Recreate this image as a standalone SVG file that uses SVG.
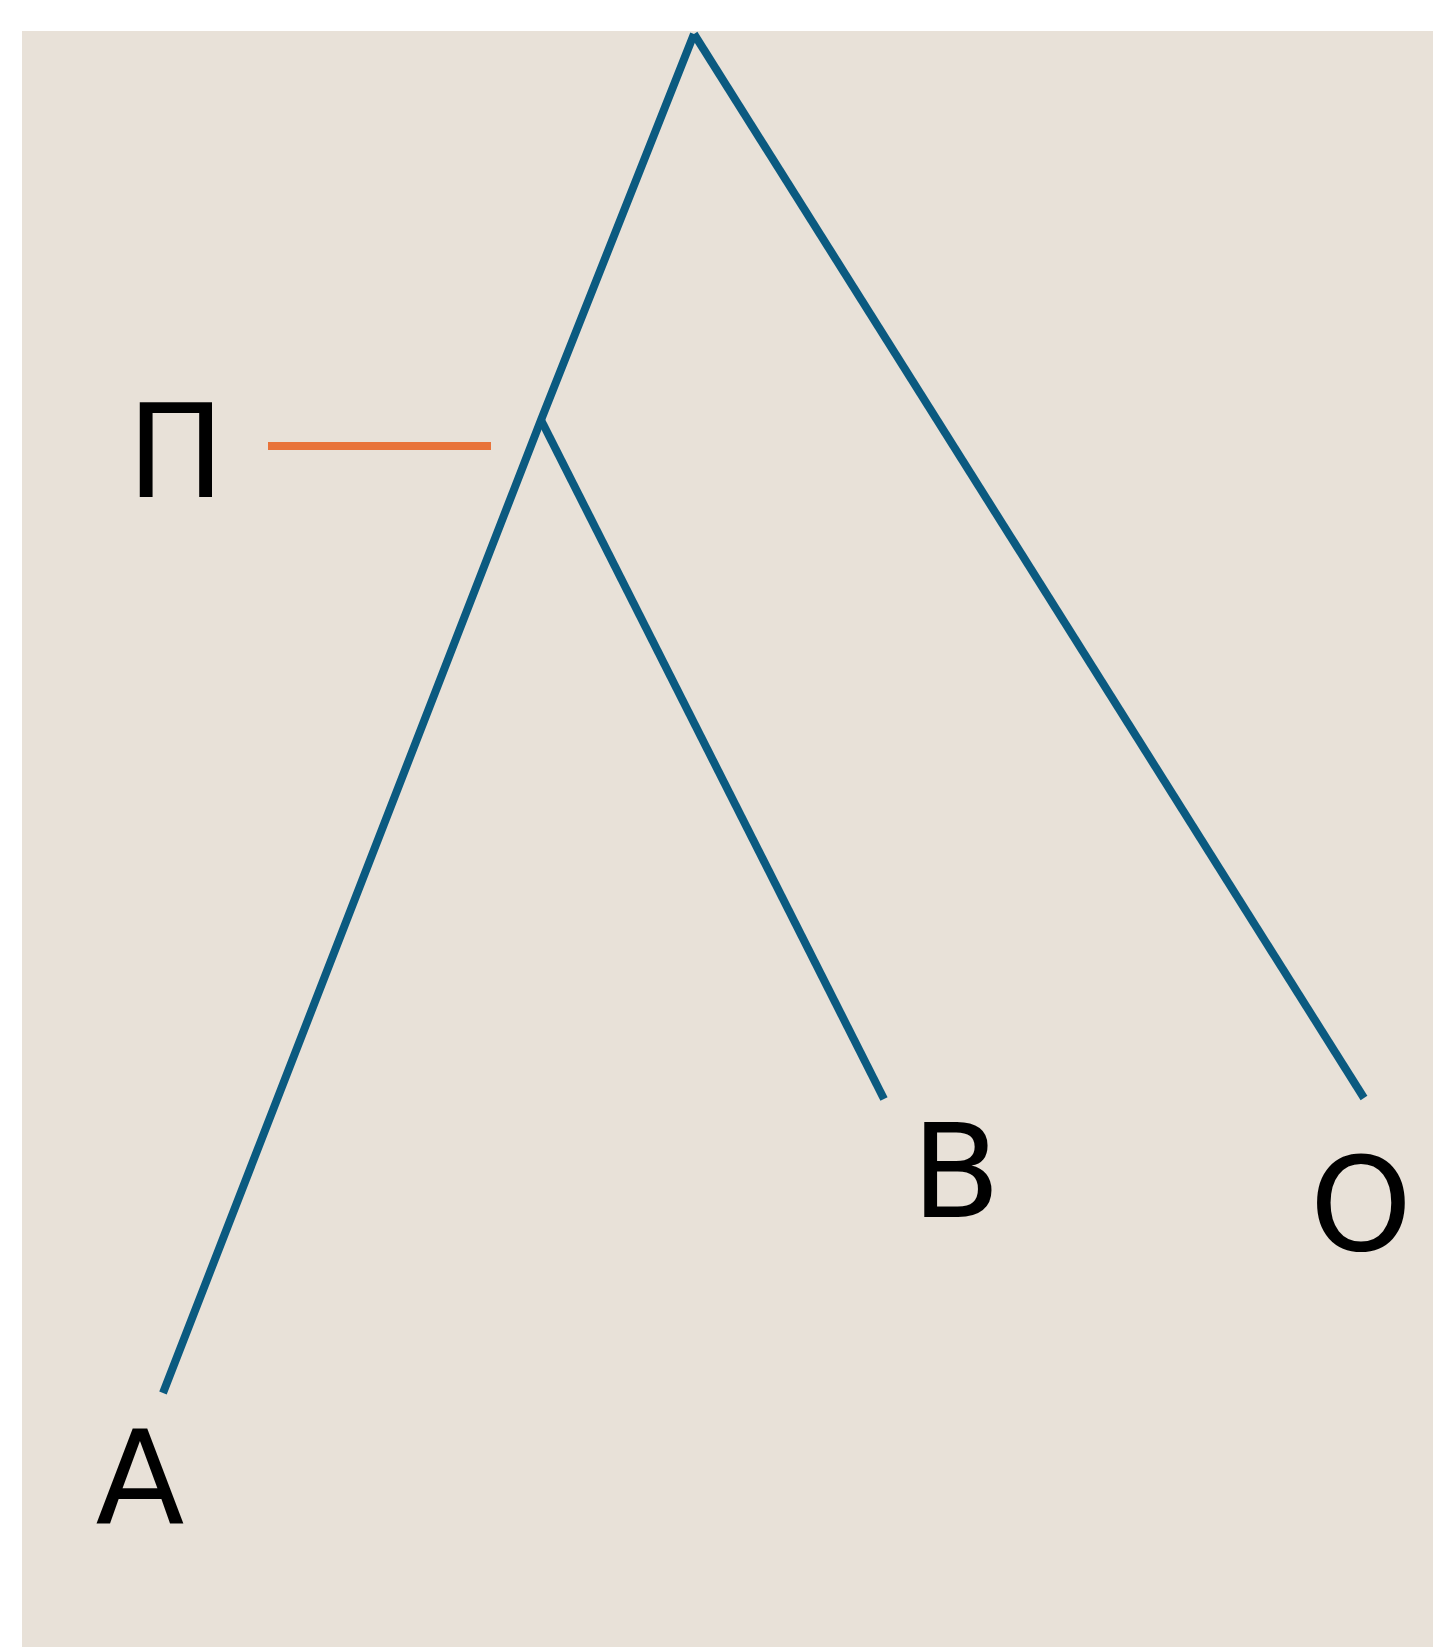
<svg xmlns="http://www.w3.org/2000/svg" width="1433" height="1647" viewBox="0 0 1433 1647">
<style>
.lbl{font-family:"DejaVu Sans","Open Sans",sans-serif;font-size:130px;fill:#000;text-anchor:middle}
.br{stroke:#0b5a80;stroke-width:8;fill:none;stroke-linecap:butt;stroke-linejoin:miter}
.mk{stroke:#e8733a;stroke-width:8}
</style>
<rect x="22" y="31" width="1411" height="1616" fill="#e8e1d8"/>
<g id="connectors">
<path class="br" d="M694 34 L541 420 L163 1393"/>
<path class="br" d="M694 34 L1364 1098"/>
<path class="br" d="M541 420 L884 1099"/>
</g>
<g id="node-P">
<line class="mk" x1="268" y1="446" x2="491" y2="446"/>
<text class="lbl" x="176" y="497">Π</text>
</g>
<g id="node-A"><text class="lbl" x="140" y="1523">A</text></g>
<g id="node-B"><text class="lbl" x="956" y="1217">B</text></g>
<g id="node-O"><text class="lbl" x="1361" y="1250">O</text></g>
</svg>
